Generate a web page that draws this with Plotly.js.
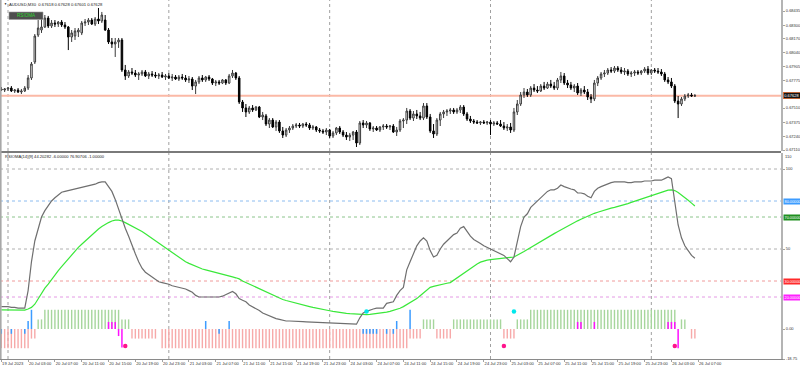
<!DOCTYPE html>
<html><head><meta charset="utf-8">
<script src="https://cdn.plot.ly/plotly-3.0.1.min.js"></script>
<style>html,body{margin:0;padding:0;background:#fff;}#chart{width:800px;height:370px;}</style>
</head><body><div id="chart"></div>
<script>
// ---------- price data (AUDUSD M30, one value per bar) ----------
const openP = [
0.67692,0.67682,0.67692,0.67701,0.67673,0.67682,0.67663,0.67673,0.67701,0.67797,
0.67949,0.68206,0.68254,0.68283,0.68368,0.68292,0.68321,0.68311,0.68330,0.68302,
0.68283,0.68187,0.68197,0.68235,0.68226,0.68321,0.68330,0.68349,0.68311,0.68359,
0.68340,0.68349,0.68254,0.68140,0.68121,0.68140,0.68159,0.67873,0.67816,0.67854,
0.67844,0.67825,0.67835,0.67854,0.67816,0.67835,0.67825,0.67816,0.67825,0.67806,
0.67816,0.67797,0.67806,0.67787,0.67806,0.67797,0.67778,0.67787,0.67720,0.67759,
0.67797,0.67778,0.67806,0.67787,0.67749,0.67759,0.67749,0.67778,0.67749,0.67816,
0.67844,0.67797,0.67568,0.67511,0.67473,0.67511,0.67492,0.67520,0.67425,0.67435,
0.67358,0.67396,0.67330,0.67377,0.67292,0.67253,0.67301,0.67320,0.67339,0.67349,
0.67339,0.67358,0.67349,0.67320,0.67330,0.67301,0.67292,0.67282,0.67301,0.67244,
0.67273,0.67320,0.67282,0.67253,0.67234,0.67253,0.67282,0.67177,0.67368,0.67349,
0.67368,0.67311,0.67320,0.67301,0.67330,0.67339,0.67330,0.67339,0.67282,0.67301,
0.67387,0.67396,0.67482,0.67415,0.67454,0.67435,0.67415,0.67530,0.67425,0.67292,
0.67263,0.67396,0.67454,0.67473,0.67482,0.67492,0.67473,0.67492,0.67520,0.67454,
0.67406,0.67387,0.67377,0.67368,0.67377,0.67368,0.67377,0.67358,0.67368,0.67358,
0.67339,0.67320,0.67330,0.67301,0.67473,0.67549,0.67635,0.67663,0.67635,0.67701,
0.67682,0.67673,0.67720,0.67701,0.67739,0.67720,0.67701,0.67778,0.67816,0.67749,
0.67730,0.67701,0.67720,0.67654,0.67682,0.67663,0.67616,0.67597,0.67749,0.67797,
0.67835,0.67844,0.67873,0.67863,0.67892,0.67873,0.67854,0.67863,0.67835,0.67844,
0.67854,0.67844,0.67863,0.67882,0.67844,0.67873,0.67863,0.67854,0.67835,0.67778,
0.67759,0.67720,0.67577,0.67549,0.67597,0.67625,0.67635,0.67625];
const highP = [
0.67711,0.67701,0.67711,0.67720,0.67692,0.67701,0.67692,0.67720,0.67825,0.67949,
0.68216,0.68349,0.68378,0.68397,0.68388,0.68349,0.68349,0.68340,0.68349,0.68330,
0.68292,0.68254,0.68273,0.68273,0.68340,0.68359,0.68368,0.68368,0.68378,0.68464,
0.68426,0.68397,0.68273,0.68178,0.68178,0.68178,0.68178,0.67921,0.67873,0.67892,
0.67873,0.67854,0.67873,0.67873,0.67854,0.67863,0.67854,0.67844,0.67854,0.67835,
0.67844,0.67835,0.67825,0.67825,0.67835,0.67825,0.67816,0.67806,0.67778,0.67816,
0.67825,0.67816,0.67825,0.67797,0.67778,0.67778,0.67787,0.67787,0.67835,0.67873,
0.67854,0.67816,0.67587,0.67549,0.67530,0.67539,0.67530,0.67530,0.67473,0.67454,
0.67415,0.67415,0.67396,0.67396,0.67330,0.67320,0.67339,0.67358,0.67368,0.67368,
0.67368,0.67377,0.67368,0.67349,0.67339,0.67320,0.67311,0.67320,0.67311,0.67292,
0.67330,0.67339,0.67301,0.67282,0.67273,0.67292,0.67301,0.67387,0.67396,0.67387,
0.67377,0.67339,0.67339,0.67339,0.67358,0.67358,0.67349,0.67358,0.67330,0.67406,
0.67415,0.67511,0.67501,0.67482,0.67492,0.67473,0.67558,0.67558,0.67454,0.67358,
0.67415,0.67473,0.67492,0.67501,0.67511,0.67511,0.67511,0.67539,0.67539,0.67473,
0.67435,0.67406,0.67396,0.67387,0.67396,0.67387,0.67396,0.67387,0.67387,0.67396,
0.67377,0.67358,0.67368,0.67511,0.67587,0.67663,0.67701,0.67692,0.67720,0.67739,
0.67720,0.67739,0.67759,0.67759,0.67778,0.67759,0.67797,0.67854,0.67844,0.67778,
0.67759,0.67739,0.67749,0.67701,0.67720,0.67692,0.67644,0.67778,0.67816,0.67854,
0.67873,0.67892,0.67901,0.67911,0.67911,0.67901,0.67892,0.67882,0.67863,0.67873,
0.67873,0.67873,0.67901,0.67911,0.67882,0.67892,0.67892,0.67882,0.67854,0.67806,
0.67797,0.67739,0.67625,0.67616,0.67644,0.67654,0.67654,0.67644];
const lowP = [
0.67673,0.67663,0.67673,0.67663,0.67654,0.67654,0.67644,0.67663,0.67682,0.67778,
0.67930,0.68187,0.68226,0.68273,0.68273,0.68273,0.68283,0.68283,0.68283,0.68264,
0.68063,0.68140,0.68159,0.68187,0.68206,0.68292,0.68302,0.68302,0.68292,0.68311,
0.68321,0.68245,0.68121,0.68083,0.67997,0.68083,0.67854,0.67778,0.67797,0.67825,
0.67806,0.67778,0.67816,0.67806,0.67787,0.67806,0.67797,0.67787,0.67797,0.67778,
0.67787,0.67768,0.67778,0.67768,0.67778,0.67759,0.67749,0.67682,0.67644,0.67739,
0.67759,0.67759,0.67768,0.67730,0.67720,0.67730,0.67739,0.67730,0.67739,0.67797,
0.67778,0.67549,0.67473,0.67425,0.67454,0.67473,0.67482,0.67415,0.67396,0.67339,
0.67320,0.67320,0.67292,0.67273,0.67225,0.67234,0.67273,0.67301,0.67320,0.67320,
0.67320,0.67330,0.67301,0.67301,0.67282,0.67273,0.67263,0.67253,0.67225,0.67225,
0.67253,0.67263,0.67234,0.67206,0.67196,0.67206,0.67139,0.67158,0.67320,0.67320,
0.67292,0.67282,0.67292,0.67282,0.67301,0.67311,0.67301,0.67273,0.67244,0.67282,
0.67320,0.67358,0.67396,0.67387,0.67406,0.67396,0.67396,0.67406,0.67273,0.67225,
0.67244,0.67339,0.67415,0.67435,0.67454,0.67454,0.67454,0.67463,0.67435,0.67387,
0.67368,0.67358,0.67358,0.67349,0.67358,0.67349,0.67253,0.67339,0.67349,0.67330,
0.67301,0.67292,0.67273,0.67282,0.67444,0.67530,0.67606,0.67616,0.67616,0.67663,
0.67654,0.67663,0.67682,0.67692,0.67701,0.67682,0.67682,0.67749,0.67730,0.67701,
0.67682,0.67663,0.67635,0.67625,0.67644,0.67587,0.67558,0.67577,0.67720,0.67778,
0.67806,0.67825,0.67844,0.67844,0.67854,0.67835,0.67825,0.67816,0.67806,0.67816,
0.67825,0.67825,0.67844,0.67825,0.67825,0.67844,0.67835,0.67816,0.67759,0.67739,
0.67701,0.67558,0.67415,0.67530,0.67577,0.67606,0.67616,0.67616];
const closeP = [
0.67682,0.67692,0.67701,0.67673,0.67682,0.67663,0.67673,0.67701,0.67797,0.67930,
0.68197,0.68273,0.68283,0.68368,0.68292,0.68321,0.68311,0.68330,0.68302,0.68283,
0.68187,0.68226,0.68245,0.68254,0.68321,0.68330,0.68349,0.68311,0.68359,0.68340,
0.68397,0.68254,0.68140,0.68121,0.68140,0.68159,0.67873,0.67816,0.67854,0.67844,
0.67825,0.67835,0.67854,0.67816,0.67835,0.67825,0.67816,0.67825,0.67806,0.67816,
0.67797,0.67806,0.67787,0.67806,0.67797,0.67778,0.67787,0.67720,0.67759,0.67797,
0.67778,0.67806,0.67787,0.67749,0.67759,0.67749,0.67778,0.67749,0.67816,0.67844,
0.67797,0.67568,0.67511,0.67473,0.67511,0.67492,0.67520,0.67425,0.67444,0.67358,
0.67396,0.67330,0.67377,0.67292,0.67253,0.67301,0.67320,0.67339,0.67349,0.67339,
0.67358,0.67349,0.67320,0.67330,0.67301,0.67292,0.67282,0.67301,0.67244,0.67273,
0.67320,0.67282,0.67253,0.67234,0.67253,0.67282,0.67177,0.67368,0.67349,0.67368,
0.67311,0.67320,0.67301,0.67330,0.67339,0.67330,0.67339,0.67282,0.67301,0.67387,
0.67396,0.67482,0.67415,0.67454,0.67435,0.67415,0.67530,0.67425,0.67292,0.67263,
0.67396,0.67454,0.67473,0.67482,0.67492,0.67473,0.67492,0.67520,0.67454,0.67406,
0.67387,0.67377,0.67368,0.67377,0.67368,0.67377,0.67358,0.67368,0.67358,0.67339,
0.67320,0.67330,0.67301,0.67473,0.67549,0.67635,0.67663,0.67635,0.67701,0.67682,
0.67673,0.67720,0.67701,0.67739,0.67720,0.67701,0.67778,0.67816,0.67749,0.67730,
0.67701,0.67720,0.67654,0.67682,0.67663,0.67616,0.67597,0.67749,0.67797,0.67835,
0.67844,0.67873,0.67863,0.67892,0.67873,0.67854,0.67863,0.67835,0.67844,0.67854,
0.67844,0.67863,0.67882,0.67844,0.67873,0.67863,0.67854,0.67835,0.67778,0.67759,
0.67720,0.67577,0.67549,0.67597,0.67625,0.67635,0.67625,0.67628];
const bidPrice = 0.67628;

// ---------- RSIOMA indicator ----------
const rsiLine = [
14,14,14,13.5,13.5,13,13,13, 24,42,55,63,70,74,77,80,
82,84,85.5,86,86.5,87,87.5,88, 88.3,89,89.5,90,90.5,91.5,92,92,
89,86,81,75,68,63,58,52, 47,42,38,35.5,34,32,30.5,29.5,
29,28.5,28,27,26.5,26,25.5,25, 24,23,21,20,20,20,20,20,
20,20,20.5,21.5,23,23.5,22,19, 18,17,15,14,13,11.5,10,9,
8,7,6.5,6,5.5,5,5,5, 4.8,4.7,4.6,4.5,4.4,4.3,4.2,4.1,
4,3.9,3.8,3.7,3.6,3.5,3.4,3.3, 3.2,3.1,3,7,10,11,12,12.5,
13,13,13,16,16.5,17,21,24, 26,37,42,47,52,55,57,55,
49,45,46,50,53,55,57,59, 60,63,64,61,58,56,55,53.5,
52,51,50,49,48,47,46,44, 42,45,55,64,70,72,76,78,
80,82,84,86,87,87,88,90, 89,88,87.5,87,85,85,84.5,83,
82,86,88,89,90,91,91.5,92, 92,92,92,91.5,91.5,92,92,92,
92.5,92.5,92.5,93,93,93,94,95, 94,80,65,57,52,49,46,44.2];
const maLine = [
12,12,12,12,12,11.8,11.8,11.8, 12.5,13.5,15.5,19,22.5,25.5,28,31,
34,36.5,39,41.5,44,46.5,49,51, 53,55,57,59,61,62.5,64,65.5,
66.5,67.5,68,68,67.5,66.5,65.5,64.5, 63.5,62.5,61,59.5,58,56.5,55,53.5,
52,50.5,49,47.5,46,44.5,43,42, 41,40,39,38,37.5,37,36.5,36,
35.5,35,34.5,34,33.3,32.6,32,31.3, 30,29,28,27,26,25,24,23,
22,21,20,19,18.4,17.8,17.2,16.6, 16,15.5,15,14.5,14,13.5,13,12.6,
12.2,11.8,11.4,11,10.6,10.3,10,9.8, 9.6,9.4,9.2,9.1,9,9,9.2,9.4,
9.6,9.8,10,10.5,11,11.6,12.3,13, 14,15.2,16.4,17.7,19,20.8,22.6,24.3,
26,26.6,27.2,27.7,28.2,28.6,29,30.5, 32,33.5,35,36.5,38,39.3,40.6,41.8,
42.5,43,43.4,43.7,44,44.2,44.4,44.6, 44.8,45,46,47.2,48.4,49.7,51,52.3,
53.6,54.9,56.1,57.3,58.5,59.6,60.8,62, 63.2,64.3,65.4,66.5,67.6,68.6,69.6,70.6,
71.5,72.3,73,73.7,74.3,74.9,75.5,76, 76.5,77,77.7,78.4,79.1,79.8,80.5,81.2,
82,82.8,83.6,84.4,85.1,85.8,86.4,86.8, 87,86.5,85.3,83.8,82.2,80.5,78.7,76.9];
const histRed = [
-12,-12,-12,-12,-12,-12,-12,-12,-12,-6, -6,0,0,0,0,0,0,0,0,0,
0,0,0,0,0,0,0,0,0,0, 0,0,0,0,0,0,0,0,0,-6,
-6,-6,-6,-6,-6,-6,-6,0,-12,-12, -12,-12,-12,-12,-12,-12,-12,-12,-12,-12,
-12,-12,-12,-12,-12,-12,-12,-12,-12,-12, -12,-12,-12,-12,-12,-12,-12,-12,-12,-12,
-12,-12,-12,-12,-12,-12,-12,-12,-12,-12, -12,-12,-12,-12,-12,-12,-12,-12,-12,-12,
-12,-12,-12,-12,-12,-12,-12,-12,-12,-12, -12,-12,-12,-12,-12,-12,-12,-12,-12,-12,
-12,-12,-6,-6,-6,-6,0,0,0,0, -6,-6,-6,-6,-6,0,0,0,0,0,
0,0,0,0,0,0,0,0,0,0, -6,-6,-6,-6,0,0,0,0,0,0,
0,0,0,0,0,0,0,0,0,0, 0,0,0,0,0,0,0,0,0,0,
0,0,0,0,0,0,0,0,0,0, 0,0,0,0,0,0,0,0,0,0,
0,0,0,0,0,0,-6,-6];
const histGreen = [
0,0,0,0,0,0,0,0,0,0, 0,6,6,12,12,12,12,12,12,12,
12,12,12,12,12,12,12,12,12,12, 12,12,12,12,12,12,6,6,6,0,
0,0,0,0,0,0,0,0,0,0, 0,0,0,0,0,0,0,0,0,0,
0,0,0,0,0,0,0,0,0,0, 0,0,0,0,0,0,0,0,0,0,
0,0,0,0,0,0,0,0,0,0, 0,0,0,0,0,0,0,0,0,0,
0,0,0,0,0,0,0,0,0,0, 0,0,0,0,0,0,0,0,0,0,
0,0,0,0,0,0,6,6,6,6, 0,0,0,0,0,6,6,6,6,6,
6,6,6,6,6,6,6,6,6,6, 0,0,0,0,6,6,6,6,12,12,
12,12,12,12,12,12,12,12,12,12, 12,12,12,12,12,12,12,12,12,12,
12,12,12,12,12,12,12,12,12,12, 12,12,12,12,12,12,12,12,12,12,
12,12,0,6,6,0,0,0];
const blueIdx = [0,3,7,8,9,61,65,68,108,109,110,111,112,115,117,118,122];
const blueVal = [-3,-3,-3,5,12,5,-3,5,-3,-3,-3,-3,-3,-3,-3,5,12];
const magIdx = [32,33,34,35,36,172,173,177,199,200,201,202];
const magVal = [4.4,4.4,4.4,-4.4,-11.5,4.4,4.4,4.4,4.4,4.4,4.4,-12];
const pinkDotIdx = [37,150,201];
const pinkDotVal = [-10.6,-10.6,-10.6];
const cyanDotIdx = [109,153];
const cyanDotVal = [11,11];
const levelVals = [100,80,70,50,30,20];
const levelColors = ['#b0b0b0','#8cbcf0','#8cc48c','#b0b0b0','#f09a9a','#e49ae4'];
const levelBoxes = [{v:80,t:'80.00000',c:'#3d9cff'},{v:70,t:'70.00000',c:'#1f8f1f'},{v:30,t:'30.00000',c:'#ff2a2a'},{v:20,t:'20.00000',c:'#ff22ff'}];
const indTicks = [100,50,0,-18.75];
const indTickText = ['100','50','0.00','-18.75'];
const indTopLabel = {v:110, t:'110'};

// ---------- axes labels ----------
const priceTicks = [0.68435,0.68300,0.68170,0.68040,0.67905,0.67775,0.67510,0.67375,0.67240,0.67110];
const priceTickText = ['0.68435','0.68300','0.68170','0.68040','0.67905','0.67775','0.67510','0.67375','0.67240','0.67110'];
const timeTickIdx = [0,8,16,24,32,40,48,56,64,72,80,88,96,104,112,120,128,136,144,152,160,168,176,184,192,200,208];
const timeTickText = ['19 Jul 2023','20 Jul 03:00','20 Jul 07:00','20 Jul 11:00','20 Jul 15:00','20 Jul 19:00','20 Jul 23:00',
 '21 Jul 03:00','21 Jul 07:00','21 Jul 11:00','21 Jul 15:00','21 Jul 19:00','21 Jul 23:00',
 '24 Jul 03:00','24 Jul 07:00','24 Jul 11:00','24 Jul 15:00','24 Jul 19:00','24 Jul 23:00',
 '25 Jul 03:00','25 Jul 07:00','25 Jul 11:00','25 Jul 15:00','25 Jul 19:00','25 Jul 23:00',
 '26 Jul 03:00','26 Jul 07:00'];
const dayStartIdx = [2,50,98,146,194];

const barIdx = openP.map((_, i) => i);
const W = 800, H = 370, PR = 781;
const topDom = [1 - 151/H, 1];
const botDom = [11/H, 1 - 153/H];

const traces = [
 {type:'candlestick', x:barIdx, open:openP, high:highP, low:lowP, close:closeP, xaxis:'x', yaxis:'y',
  increasing:{line:{color:'#3a3a3a',width:1}, fillcolor:'#ffffff'},
  decreasing:{line:{color:'#000000',width:1}, fillcolor:'#000000'}, whiskerwidth:0, hoverinfo:'skip'},
 {type:'bar', x:barIdx, y:histRed, xaxis:'x', yaxis:'y2', width:0.42, marker:{color:'#f7a9a9', line:{width:0}}, hoverinfo:'skip'},
 {type:'bar', x:barIdx, y:histGreen, xaxis:'x', yaxis:'y2', width:0.42, marker:{color:'#a6d69c', line:{width:0}}, hoverinfo:'skip'},
 {type:'bar', x:blueIdx, y:blueVal, xaxis:'x', yaxis:'y2', width:0.45, marker:{color:'#3d9cff', line:{width:0}}, hoverinfo:'skip'},
 {type:'bar', x:magIdx, y:magVal, xaxis:'x', yaxis:'y2', width:0.45, marker:{color:'#ff10ff', line:{width:0}}, hoverinfo:'skip'},
 {type:'scatter', mode:'lines', x:barIdx, y:maLine, xaxis:'x', yaxis:'y2', line:{color:'#3ae83a', width:1.2}, hoverinfo:'skip'},
 {type:'scatter', mode:'lines', x:barIdx, y:rsiLine, xaxis:'x', yaxis:'y2', line:{color:'#6f6f6f', width:1.2}, hoverinfo:'skip'},
 {type:'scatter', mode:'markers', x:pinkDotIdx, y:pinkDotVal, xaxis:'x', yaxis:'y2', marker:{color:'#ff148c', size:4.5}, hoverinfo:'skip'},
 {type:'scatter', mode:'markers', x:cyanDotIdx, y:cyanDotVal, xaxis:'x', yaxis:'y2', marker:{color:'#00e8ec', size:4.5}, hoverinfo:'skip'}
];

const shapes = [];
dayStartIdx.forEach(d => {
 shapes.push({type:'line', xref:'x', yref:'paper', x0:d, x1:d, y0:topDom[0], y1:topDom[1], line:{color:'#a0a0a0', width:1, dash:'dot'}, layer:'below'});
 shapes.push({type:'line', xref:'x', yref:'paper', x0:d, x1:d, y0:botDom[0], y1:botDom[1], line:{color:'#a0a0a0', width:1, dash:'dot'}, layer:'below'});
});
levelVals.forEach((v, k) => {
 shapes.push({type:'line', xref:'paper', yref:'y2', x0:0, x1:1, y0:v, y1:v, line:{color:levelColors[k], width:1, dash:'dot'}, layer:'below'});
});
shapes.push({type:'line', xref:'paper', yref:'y', x0:0, x1:1, y0:bidPrice, y1:bidPrice, line:{color:'#fbb9a6', width:2}, layer:'below'});
shapes.push({type:'line', xref:'paper', yref:'paper', x0:0, x1:1, y0:1-152/H, y1:1-152/H, line:{color:'#7a7a7a', width:2}});
shapes.push({type:'line', xref:'paper', yref:'paper', x0:0.8/PR, x1:0.8/PR, y0:botDom[0], y1:1, line:{color:'#a8a8a8', width:1.6}});
shapes.push({type:'rect', xref:'paper', yref:'paper', x0:9/PR, x1:43/PR, y0:1-19.5/H, y1:1-12/H, fillcolor:'#4e4e4e', line:{color:'#9a9a9a', width:0.6}});

const annotations = [
 {xref:'paper', yref:'paper', x:1.6/PR, y:1-4.2/H, text:'▼', showarrow:false, xanchor:'left', yanchor:'middle', font:{size:3, color:'#000'}},
 {xref:'paper', yref:'paper', x:7/PR, y:1-4.2/H, text:'AUDUSD,M30  0.67618 0.67628 0.67601 0.67628', showarrow:false, xanchor:'left', yanchor:'middle', font:{size:4.2, color:'#222'}},
 {xref:'paper', yref:'paper', x:26/PR, y:1-15.8/H, text:'RSIOMA', showarrow:false, xanchor:'center', yanchor:'middle', font:{size:4.6, color:'#2fd62f'}},
 {xref:'paper', yref:'paper', x:3/PR, y:1-156.5/H, text:'RSIOMA(14)[9] 44.20282 -6.00000 76.90706 -1.00000', showarrow:false, xanchor:'left', yanchor:'middle', font:{size:4.1, color:'#222'}},
 {xref:'paper', yref:'y', x:1.002, y:bidPrice, text:'0.67628', showarrow:false, xanchor:'left', yanchor:'middle', bgcolor:'#141414', bordercolor:'#ff6a1a', borderwidth:0.6, borderpad:0.6, font:{size:4, color:'#ffffff'}},
 {xref:'paper', yref:'y2', x:1.004, y:indTopLabel.v, text:indTopLabel.t, showarrow:false, xanchor:'left', yanchor:'top', borderpad:0, font:{size:4, color:'#333'}}
];
levelBoxes.forEach(b => {
 annotations.push({xref:'paper', yref:'y2', x:1.002, y:b.v, text:b.t, showarrow:false, xanchor:'left', yanchor:'middle', bgcolor:b.c, borderpad:0.6, font:{size:3.8, color:'#ffffff'}});
});

const layout = {
 width:W, height:H, margin:{l:0, r:W-PR, t:0, b:0, pad:0},
 paper_bgcolor:'#ffffff', plot_bgcolor:'#ffffff', showlegend:false, barmode:'overlay', boxgap:0.35,
 font:{family:'Liberation Sans, Arial, sans-serif', size:4.2, color:'#333'},
 xaxis:{domain:[0,1], range:[-0.39,232.7], anchor:'y2', tickmode:'array', tickvals:timeTickIdx, ticktext:timeTickText,
  tickangle:0, ticks:'outside', ticklen:2, tickwidth:0.6, tickcolor:'#666', ticklabelposition:'outside right', tickfont:{size:4.1, color:'#333'},
  showgrid:false, zeroline:false, showline:true, linecolor:'#8a8a8a', linewidth:1, rangeslider:{visible:false}, fixedrange:true, automargin:false},
 yaxis:{domain:topDom, range:[0.67101,0.68540], side:'right', anchor:'x', tickmode:'array', tickvals:priceTicks, ticktext:priceTickText,
  ticks:'outside', ticklen:2, tickwidth:0.6, tickcolor:'#666', tickfont:{size:4, color:'#333'},
  showgrid:false, zeroline:false, showline:true, linecolor:'#b4b4b4', linewidth:2, fixedrange:true, automargin:false},
 yaxis2:{domain:botDom, range:[-18.75,110], side:'right', anchor:'x', tickmode:'array', tickvals:indTicks, ticktext:indTickText,
  ticks:'outside', ticklen:2, tickwidth:0.6, tickcolor:'#666', tickfont:{size:4, color:'#333'},
  showgrid:false, zeroline:false, showline:true, linecolor:'#b4b4b4', linewidth:2, fixedrange:true, automargin:false},
 shapes:shapes, annotations:annotations
};

Plotly.newPlot('chart', traces, layout, {staticPlot:true, displayModeBar:false});
</script>
</body></html>
